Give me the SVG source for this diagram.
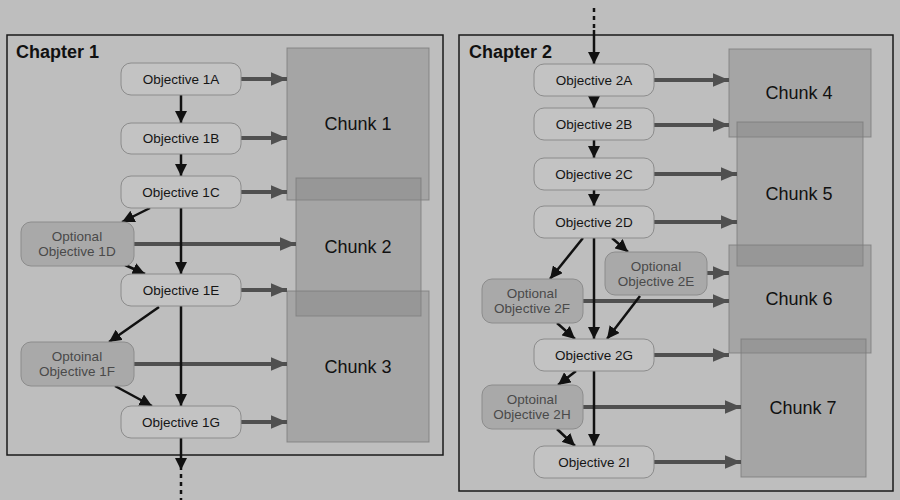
<svg xmlns="http://www.w3.org/2000/svg" width="900" height="500" viewBox="0 0 900 500">
<defs>
<marker id="bk" viewBox="0 0 10 10" refX="10" refY="5" markerWidth="5" markerHeight="5" markerUnits="strokeWidth" orient="auto"><path d="M0,0 L10,5 L0,10 Z" fill="#111"/></marker>
<marker id="gy" viewBox="0 0 10 10" refX="10" refY="5" markerWidth="4" markerHeight="3.4" markerUnits="strokeWidth" orient="auto" preserveAspectRatio="none"><path d="M0,0 L10,5 L0,10 Z" fill="#505050"/></marker>
<style>
.ch{fill:none;stroke:#1a1a1a;stroke-width:1.5}
.cht{font-family:"Liberation Sans",Arial,sans-serif;font-weight:bold;font-size:18px;fill:#111}
.obj{fill:#c3c3c3;stroke:#8c8c8c;stroke-width:1}
.opt{fill:#a9a9a9;stroke:#8c8c8c;stroke-width:1}
.chunk{fill:#848484;fill-opacity:0.42;stroke:#7a7a7a;stroke-opacity:0.8;stroke-width:1}
.t{font-family:"Liberation Sans",Arial,sans-serif;font-size:13.5px;fill:#151515;text-anchor:middle}
.to{font-family:"Liberation Sans",Arial,sans-serif;font-size:13.5px;fill:#4a4a4a;text-anchor:middle}
.tc{font-family:"Liberation Sans",Arial,sans-serif;font-size:18px;fill:#111;text-anchor:middle}
.b{stroke:#111;stroke-width:2.5;fill:none;marker-end:url(#bk)}
.g{stroke:#505050;stroke-width:4;fill:none;marker-end:url(#gy)}
.d{stroke:#111;stroke-width:2.5;stroke-dasharray:4 4;fill:none}
</style>
</defs>
<rect width="900" height="500" fill="#bebebe"/>
<g id="chapter1"><rect class="ch" x="7" y="35" width="436" height="420"/><text class="cht" x="16" y="58">Chapter 1</text></g>
<g id="chapter2"><rect class="ch" x="459" y="35" width="434" height="456"/><text class="cht" x="469" y="58">Chapter 2</text></g>
<g id="chunk1"><rect class="chunk" x="287" y="48" width="142" height="152"/><text class="tc" x="358" y="130">Chunk 1</text></g>
<g id="chunk2"><rect class="chunk" x="296" y="178" width="125" height="138"/><text class="tc" x="358" y="253">Chunk 2</text></g>
<g id="chunk3"><rect class="chunk" x="287" y="291" width="142" height="151"/><text class="tc" x="358" y="373">Chunk 3</text></g>
<g id="chunk4"><rect class="chunk" x="729" y="49" width="142" height="88"/><text class="tc" x="799" y="99">Chunk 4</text></g>
<g id="chunk5"><rect class="chunk" x="737" y="122" width="126" height="144"/><text class="tc" x="799" y="200">Chunk 5</text></g>
<g id="chunk6"><rect class="chunk" x="729" y="245" width="142" height="108"/><text class="tc" x="799" y="305">Chunk 6</text></g>
<g id="chunk7"><rect class="chunk" x="741" y="339" width="125" height="138"/><text class="tc" x="803" y="414">Chunk 7</text></g>
<g id="connectors">
<line class="g" x1="241" y1="79" x2="287" y2="79"/>
<line class="g" x1="241" y1="138" x2="287" y2="138"/>
<line class="g" x1="241" y1="192" x2="287" y2="192"/>
<line class="g" x1="134" y1="244" x2="296" y2="244"/>
<line class="g" x1="241" y1="290" x2="287" y2="290"/>
<line class="g" x1="134" y1="364" x2="287" y2="364"/>
<line class="g" x1="241" y1="422" x2="287" y2="422"/>
<line class="b" x1="181" y1="95" x2="181" y2="123"/>
<line class="b" x1="181" y1="154" x2="181" y2="176"/>
<line class="b" x1="181" y1="208" x2="181" y2="274"/>
<line class="b" x1="150" y1="208" x2="122" y2="222"/>
<line class="b" x1="125" y1="265" x2="145" y2="274"/>
<line class="b" x1="159" y1="307" x2="109" y2="342"/>
<line class="b" x1="115" y1="386" x2="152" y2="406"/>
<line class="b" x1="181" y1="306" x2="181" y2="406"/>
<line class="b" x1="181" y1="438" x2="181" y2="470"/>
<line class="d" x1="181" y1="474" x2="181" y2="500"/>
<line class="g" x1="654" y1="80" x2="729" y2="80"/>
<line class="g" x1="654" y1="125" x2="729" y2="125"/>
<line class="g" x1="654" y1="174" x2="737" y2="174"/>
<line class="g" x1="654" y1="222" x2="737" y2="222"/>
<line class="g" x1="707" y1="273" x2="729" y2="273"/>
<line class="g" x1="583" y1="301" x2="729" y2="301"/>
<line class="g" x1="654" y1="355" x2="729" y2="355"/>
<line class="g" x1="583" y1="407" x2="741" y2="407"/>
<line class="g" x1="654" y1="462" x2="741" y2="462"/>
<line class="d" x1="594" y1="8" x2="594" y2="30"/>
<line class="b" x1="594" y1="30" x2="594" y2="64"/>
<line class="b" x1="594" y1="96" x2="594" y2="108"/>
<line class="b" x1="594" y1="140" x2="594" y2="158"/>
<line class="b" x1="594" y1="190" x2="594" y2="206"/>
<line class="b" x1="594" y1="238" x2="594" y2="339"/>
<line class="b" x1="583" y1="238" x2="550" y2="279"/>
<line class="b" x1="612" y1="238" x2="628" y2="252"/>
<line class="b" x1="640" y1="296" x2="607" y2="339"/>
<line class="b" x1="557" y1="323" x2="575" y2="339"/>
<line class="b" x1="576" y1="371" x2="558" y2="385"/>
<line class="b" x1="557" y1="429" x2="575" y2="446"/>
<line class="b" x1="594" y1="371" x2="594" y2="446"/>
</g>
<g id="obj1A"><rect class="obj" x="121" y="63" width="120" height="32" rx="10"/><text class="t" x="181" y="84">Objective 1A</text></g>
<g id="obj1B"><rect class="obj" x="121" y="123" width="120" height="31" rx="10"/><text class="t" x="181" y="143">Objective 1B</text></g>
<g id="obj1C"><rect class="obj" x="121" y="176" width="120" height="32" rx="10"/><text class="t" x="181" y="197">Objective 1C</text></g>
<g id="opt1D"><rect class="opt" x="21" y="222" width="113" height="44" rx="10"/><text class="to" x="77" y="241">Optional</text><text class="to" x="77" y="256">Objective 1D</text></g>
<g id="obj1E"><rect class="obj" x="121" y="274" width="120" height="32" rx="10"/><text class="t" x="181" y="295">Objective 1E</text></g>
<g id="opt1F"><rect class="opt" x="21" y="342" width="113" height="44" rx="10"/><text class="to" x="77" y="361">Optoinal</text><text class="to" x="77" y="376">Objective 1F</text></g>
<g id="obj1G"><rect class="obj" x="121" y="406" width="120" height="32" rx="10"/><text class="t" x="181" y="427">Objective 1G</text></g>
<g id="obj2A"><rect class="obj" x="534" y="64" width="120" height="32" rx="10"/><text class="t" x="594" y="85">Objective 2A</text></g>
<g id="obj2B"><rect class="obj" x="534" y="108" width="120" height="32" rx="10"/><text class="t" x="594" y="129">Objective 2B</text></g>
<g id="obj2C"><rect class="obj" x="534" y="158" width="120" height="32" rx="10"/><text class="t" x="594" y="179">Objective 2C</text></g>
<g id="obj2D"><rect class="obj" x="534" y="206" width="120" height="32" rx="10"/><text class="t" x="594" y="227">Objective 2D</text></g>
<g id="opt2E"><rect class="opt" x="605" y="252" width="102" height="43" rx="10"/><text class="to" x="656" y="271">Optional</text><text class="to" x="656" y="286">Objective 2E</text></g>
<g id="opt2F"><rect class="opt" x="482" y="279" width="101" height="44" rx="10"/><text class="to" x="532" y="298">Optional</text><text class="to" x="532" y="313">Objective 2F</text></g>
<g id="obj2G"><rect class="obj" x="534" y="339" width="120" height="32" rx="10"/><text class="t" x="594" y="360">Objective 2G</text></g>
<g id="opt2H"><rect class="opt" x="482" y="385" width="101" height="44" rx="10"/><text class="to" x="532" y="404">Optoinal</text><text class="to" x="532" y="419">Objective 2H</text></g>
<g id="obj2I"><rect class="obj" x="534" y="446" width="120" height="32" rx="10"/><text class="t" x="594" y="467">Objective 2I</text></g>
</svg>
